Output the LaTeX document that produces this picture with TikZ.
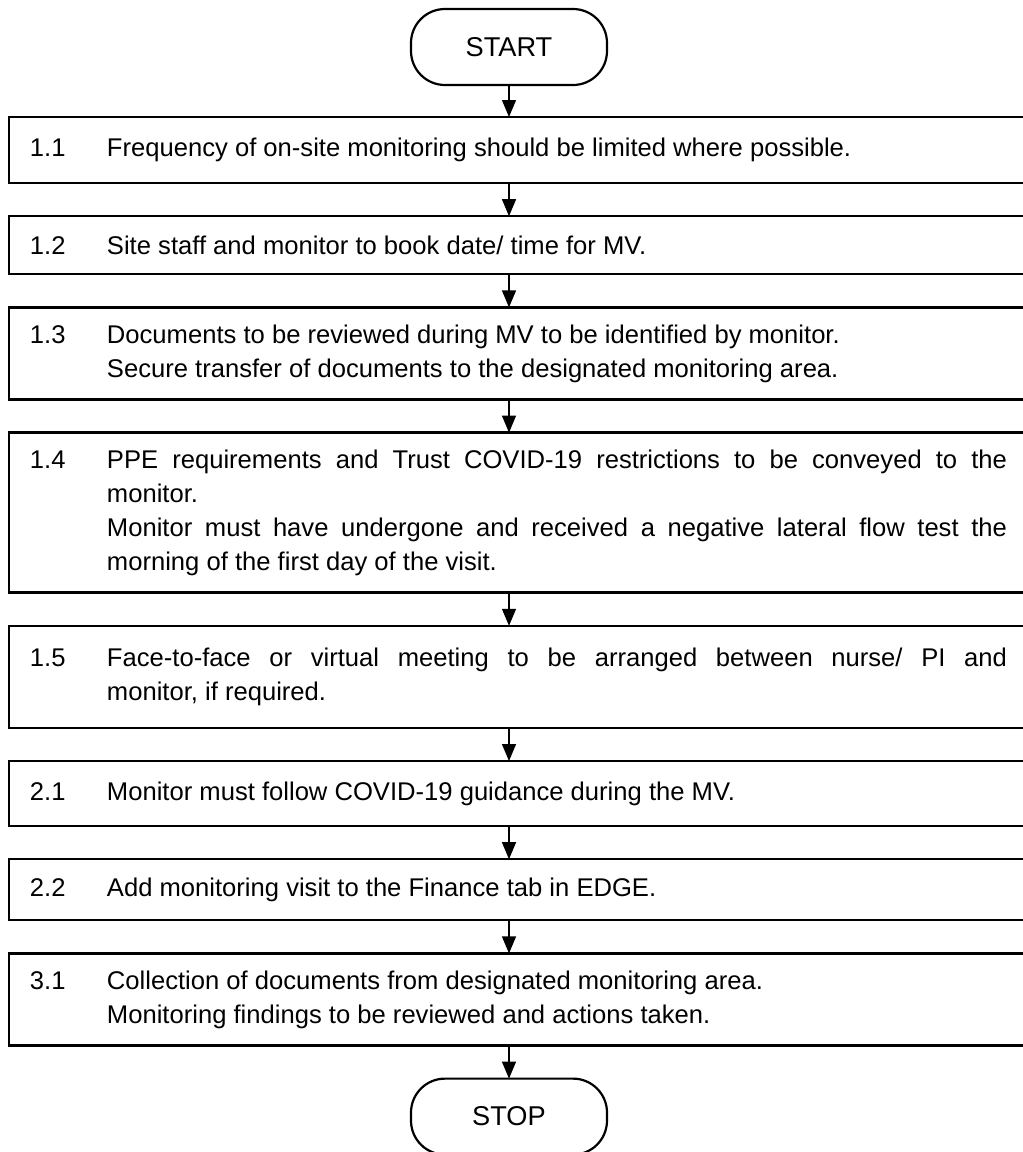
\documentclass[tikz,border=0pt]{standalone}
\usepackage{fontspec}
\setmainfont{Liberation Sans}
\usepackage{tikz}
\usetikzlibrary{positioning}
\usetikzlibrary{arrows.meta}

\newcommand{\stepitem}[2]{\hspace*{10.5pt}\makebox[38.5pt][l]{#1}\parbox[t]{450pt}{#2}\hspace*{20pt}}

\begin{document}
\begin{tikzpicture}
  [
    x             = 0.5pt,
    y             = -0.5pt,
    font          = \fontsize{12.8}{17}\selectfont,
    node distance = 16.6pt,
    flow/.style   = {draw, line width=0.65pt, -{Triangle[width=7pt,length=8.5pt]}}
  ]
  \useasboundingbox (0,0) rectangle (1023,1152);
  \clip (0,0) rectangle (1023,1152);
  \begin{scope}[term/.style={rectangle,draw,line width=1.1pt,rounded corners=17pt,minimum width=98pt,minimum height=38pt,
  				outer sep=0pt,font=\fontsize{13.6}{17}\selectfont},
  			stepbox/.style={rectangle,draw,line width=1.2pt,inner sep=0pt,outer sep=0pt}]
  \node [term] (start) at (509,47) {START};
  \node [stepbox, anchor=north west, minimum height=33pt] (s11) at (9,117)
    {\stepitem{1.1}{Frequency of on-site monitoring should be limited where possible.}};
  \node [stepbox, minimum height=29pt] (s12) [below=of s11]
    {\stepitem{1.2}{Site staff and monitor to book date/ time for MV.}};
  \node [stepbox, minimum height=46pt] (s13) [below=of s12]
    {\stepitem{1.3}{Documents to be reviewed during MV to be identified by monitor.\\
      Secure transfer of documents to the designated monitoring area.}};
  \node [stepbox, minimum height=80pt] (s14) [below=of s13]
    {\stepitem{1.4}{PPE requirements and Trust COVID-19 restrictions to be conveyed to the\linebreak
      monitor.\par
      Monitor must have undergone and received a negative lateral flow test the\linebreak
      morning of the first day of the visit.}};
  \node [stepbox, minimum height=51pt] (s15) [below=of s14]
    {\stepitem{1.5}{Face-to-face or virtual meeting to be arranged between nurse/ PI and\linebreak
      monitor, if required.}};
  \node [stepbox, minimum height=32.5pt] (s21) [below=of s15]
    {\stepitem{2.1}{Monitor must follow COVID-19 guidance during the MV.}};
  \node [stepbox, minimum height=30.5pt] (s22) [below=of s21]
    {\stepitem{2.2}{Add monitoring visit to the Finance tab in EDGE.}};
  \node [stepbox, minimum height=46pt] (s31) [below=of s22]
    {\stepitem{3.1}{Collection of documents from designated monitoring area.\\
      Monitoring findings to be reviewed and actions taken.}};
  \coordinate (end) at (s31.south -| start);
  \node [term] (stop) [below=of end] {STOP};
  % arrows down the spine
  \path[flow] (start) -- (start |- s11.north);
  \foreach \from/\to in {s11/s12, s12/s13, s13/s14, s14/s15, s15/s21, s21/s22, s22/s31}
    \path[flow] (\from.south -| start) -- (\to.north -| start);
  \path[flow] (end) -- (stop);
  \end{scope}
\end{tikzpicture}
\end{document}
